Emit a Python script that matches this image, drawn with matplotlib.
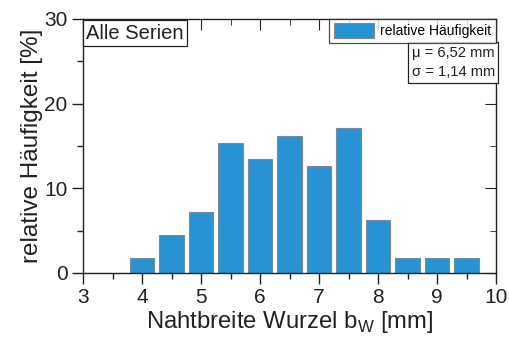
import matplotlib.pyplot as plt
from matplotlib.ticker import MultipleLocator

plt.rcParams['font.family'] = ['Liberation Sans', 'DejaVu Sans']

# bin centres [mm] and relative frequency [%]
centers = [4.0, 4.5, 5.0, 5.5, 6.0, 6.5, 7.0, 7.5, 8.0, 8.5, 9.0, 9.5]
freq = [1.8, 4.5, 7.2, 15.3, 13.5, 16.2, 12.6, 17.1, 6.3, 1.8, 1.8, 1.8]
stats = ["\u03bc = 6,52 mm", "\u03c3 = 1,14 mm"]

fig = plt.figure(figsize=(5.09, 3.40), dpi=100)
ax = fig.add_axes([83 / 509, 1 - 273 / 340, 413 / 509, 254 / 340])

ax.bar(centers, freq, width=0.41, color='#2893d4', edgecolor='#7a8a96',
       linewidth=0.8, label='relative Häufigkeit', zorder=2)

ax.set_xlim(3, 10)
ax.set_ylim(0, 30)
ax.xaxis.set_major_locator(MultipleLocator(1))
ax.xaxis.set_minor_locator(MultipleLocator(0.5))
ax.yaxis.set_major_locator(MultipleLocator(10))
ax.yaxis.set_minor_locator(MultipleLocator(5))
ax.tick_params(which='both', direction='out', top=False, right=False,
               labelsize=15, color='#222222', width=1.0, labelcolor='#222222')
ax.tick_params(which='major', length=8, pad=3)
ax.tick_params(which='minor', length=4.5)

# mirrored ticks pointing inwards on top and right
sec_x = ax.secondary_xaxis('top')
sec_x.xaxis.set_major_locator(MultipleLocator(1))
sec_x.xaxis.set_minor_locator(MultipleLocator(0.5))
sec_x.tick_params(which='both', direction='in', labeltop=False, color='#222222')
sec_x.tick_params(which='major', length=8)
sec_x.tick_params(which='minor', length=4.5)
sec_y = ax.secondary_yaxis('right')
sec_y.yaxis.set_major_locator(MultipleLocator(10))
sec_y.yaxis.set_minor_locator(MultipleLocator(5))
sec_y.tick_params(which='both', direction='in', labelright=False, color='#222222')
sec_y.tick_params(which='major', length=8)
sec_y.tick_params(which='minor', length=4.5)

for sp in ax.spines.values():
    sp.set_color('#222222')
    sp.set_linewidth(1.0)
for sp in list(sec_x.spines.values()) + list(sec_y.spines.values()):
    sp.set_visible(False)

ax.set_xlabel('Nahtbreite Wurzel b$_\\mathregular{W}$ [mm]', fontsize=17.2,
              color='#222222', labelpad=1)
ax.set_ylabel('relative Häufigkeit [%]', fontsize=17.5, color='#222222',
              labelpad=1)

ax.text(0.008, 0.982, 'Alle Serien', transform=ax.transAxes, fontsize=14.5,
        ha='left', va='top', color='#222222',
        bbox=dict(boxstyle='square,pad=0.18', fc='white', ec='#222222', lw=0.9))

leg = ax.legend(loc='upper right', fontsize=10, frameon=True, fancybox=False,
                borderaxespad=0, handlelength=2.9, handleheight=1.2,
                handletextpad=0.45, borderpad=0.32)
leg.get_frame().set_edgecolor('#222222')
leg.get_frame().set_linewidth(0.9)

ax.text(0.997, 0.893, '\n'.join(stats), transform=ax.transAxes, fontsize=10.6,
        ha='right', va='top', color='#222222', linespacing=1.45,
        bbox=dict(boxstyle='square,pad=0.25', fc='white', ec='#222222', lw=0.9))

fig.savefig('out.png', dpi=100)
